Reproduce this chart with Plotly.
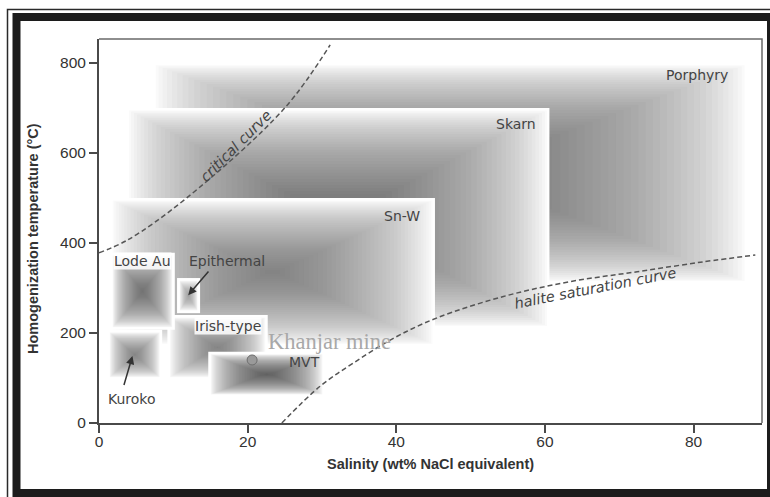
import plotly.graph_objects as go

# ---------------- data ----------------
deposit_names = ["Porphyry", "Skarn", "Sn-W", "Irish-type", "Kuroko", "Lode Au", "Epithermal", "MVT"]
salinity_min = [7.3, 3.7, 1.5, 9.2, 1.1, 1.5, 10.5, 14.7]
salinity_max = [87.2, 60.6, 45.2, 22.7, 8.5, 10.2, 13.6, 30.4]
temp_min = [310, 210, 170, 96, 96, 207, 244, 58]
temp_max = [800, 700, 500, 240, 207, 378, 322, 158]

critical_sal = [0, 3.9, 11.8, 25.0, 31.1]
critical_temp = [378, 407, 500, 700, 840]

halite_sal = [24.6, 29.7, 34.2, 39.6, 45.4, 54.4, 63.4, 72.4, 81.3, 88.3]
halite_temp = [0, 81, 133, 188, 233, 281, 314, 336, 358, 373]

khanjar_sal = [20.6]
khanjar_temp = [140]

x_ticks = [0, 20, 40, 60, 80]
y_ticks = [0, 200, 400, 600, 800]

# ---------------- layout constants ----------------
W, H = 770, 497
ML, MR, MT, MB = 99, 8, 39, 74
XR = [0, 89.2]
YR = [0, 853]
PW, PH = W - ML - MR, H - MT - MB
sx = PW / (XR[1] - XR[0])
sy = PH / (YR[1] - YR[0])

# centre darkness of each shaded field (style)
shade = {"Porphyry": 0.6, "Skarn": 0.6, "Sn-W": 0.57, "Irish-type": 0.55, "Kuroko": 0.55,
         "Lode Au": 0.6, "Epithermal": 0.5, "MVT": 0.66}

shapes = []
N = 40
rim = 2.5
for name, x0, x1, y0, y1 in zip(deposit_names, salinity_min, salinity_max, temp_min, temp_max):
    shapes.append(dict(type="rect", xref="x", yref="y", x0=x0, x1=x1, y0=y0, y1=y1,
                       fillcolor="white", line=dict(width=0), layer="below"))
    D = shade[name]
    a = 1 - (1 - D) ** (1.0 / N)
    w, h = x1 - x0, y1 - y0
    for i in range(N):
        f = 0.47 * (i / (N - 1)) ** 1.25
        dx = rim / sx + f * w
        dy = rim / sy + f * h
        shapes.append(dict(type="rect", xref="x", yref="y",
                           x0=x0 + dx, x1=x1 - dx, y0=y0 + dy, y1=y1 - dy,
                           fillcolor=f"rgba(50,50,50,{a:.4f})", line=dict(width=0), layer="below"))

def pxx(px):
    return (px - ML) / PW

def pyy(py):
    return (H - MB - py) / PH

# plot box top/right edges
shapes.append(dict(type="path", xref="paper", yref="paper", path="M 0 1 L 1 1 L 1 0",
                   line=dict(color="#6a6a6a", width=1.5)))
# outer frame (thick band + thin line)
shapes.append(dict(type="rect", xref="paper", yref="paper",
                   x0=pxx(16.5), x1=pxx(771), y0=pyy(493), y1=pyy(17),
                   line=dict(color="#1c1c1c", width=8)))
shapes.append(dict(type="rect", xref="paper", yref="paper",
                   x0=pxx(7.5), x1=pxx(790), y0=pyy(520), y1=pyy(9.5),
                   line=dict(color="#2a2a2a", width=1.5)))

fig = go.Figure()

fig.add_trace(go.Scatter(x=critical_sal, y=critical_temp, mode="lines", line_shape="spline",
                         line=dict(color="#555555", width=1.5, dash="5px,3px"),
                         hoverinfo="skip", showlegend=False))
fig.add_trace(go.Scatter(x=halite_sal, y=halite_temp, mode="lines", line_shape="spline",
                         line=dict(color="#555555", width=1.5, dash="5px,3px"),
                         hoverinfo="skip", showlegend=False))
fig.add_trace(go.Scatter(x=khanjar_sal, y=khanjar_temp, mode="markers",
                         marker=dict(size=10, color="#9a9a9a", line=dict(color="#6e6e6e", width=1)),
                         hoverinfo="skip", showlegend=False))

lab_font = dict(family="DejaVu Sans", size=14, color="#444444")
annotations = []
label_pos = {
    "Porphyry": (80.5, 773, None),
    "Skarn": (56.1, 664, None),
    "Sn-W": (40.8, 460, None),
    "Lode Au": (5.9, 360, "rgba(255,255,255,0.85)"),
    "Epithermal": (17.2, 360, None),
    "Irish-type": (17.4, 216, "rgba(255,255,255,0.85)"),
    "MVT": (27.7, 136, None),
    "Kuroko": (4.4, 53, None),
}
for name, (lx, ly, bg) in label_pos.items():
    ann = dict(x=lx, y=ly, xref="x", yref="y", text=name, showarrow=False, font=lab_font)
    if bg:
        ann["bgcolor"] = bg
        ann["borderpad"] = 0
    annotations.append(ann)

# arrows
annotations.append(dict(x=12.0, y=284, ax=14.9, ay=340, xref="x", yref="y", axref="x", ayref="y",
                        text="", showarrow=True, arrowhead=2, arrowsize=1.1, arrowwidth=1.5,
                        arrowcolor="#333333"))
annotations.append(dict(x=4.5, y=149, ax=3.3, ay=81, xref="x", yref="y", axref="x", ayref="y",
                        text="", showarrow=True, arrowhead=2, arrowsize=1.1, arrowwidth=1.5,
                        arrowcolor="#333333"))

curve_font = dict(family="DejaVu Sans", size=14.5, color="#444444")
annotations.append(dict(x=18.4, y=615, xref="x", yref="y", text="<i>critical curve</i>",
                        showarrow=False, textangle=-45, font=curve_font))
annotations.append(dict(x=66.8, y=300, xref="x", yref="y", text="<i>halite saturation curve</i>",
                        showarrow=False, textangle=-11, font=curve_font))
annotations.append(dict(x=31.0, y=181, xref="x", yref="y", text="Khanjar mine",
                        showarrow=False, font=dict(family="Liberation Serif", size=22.5, color="#a8a8a8")))

# axis titles
annotations.append(dict(x=0.5, y=pyy(464), xref="paper", yref="paper", showarrow=False,
                        xanchor="center", yanchor="middle",
                        text="<b>Salinity (wt% NaCl equivalent)</b>",
                        font=dict(family="Liberation Sans", size=14.5, color="#333333")))
annotations.append(dict(x=pxx(33), y=pyy(239), xref="paper", yref="paper", showarrow=False,
                        xanchor="center", yanchor="middle",
                        text="<b>Homogenization temperature (°C)</b>", textangle=-90,
                        font=dict(family="Liberation Sans", size=14.5, color="#333333")))

axis_common = dict(showgrid=False, zeroline=False, showline=True, linecolor="#4a4a4a", linewidth=2,
                   ticks="outside", ticklen=8, tickwidth=1.5, tickcolor="#4a4a4a",
                   tickfont=dict(family="Liberation Sans", size=15.5, color="#333333"), mirror=False)

fig.update_layout(
    width=W, height=H, autosize=False,
    margin=dict(l=ML, r=MR, t=MT, b=MB, pad=0),
    paper_bgcolor="white", plot_bgcolor="white",
    shapes=shapes, annotations=annotations, showlegend=False,
    xaxis=dict(range=XR, tickvals=x_ticks, ticklabelstandoff=-5, **axis_common),
    yaxis=dict(range=YR, tickvals=y_ticks, **axis_common),
)

fig.write_html("out.html", config={"displayModeBar": False},
               post_script="document.body.style.margin='0';document.body.style.overflow='hidden';")
